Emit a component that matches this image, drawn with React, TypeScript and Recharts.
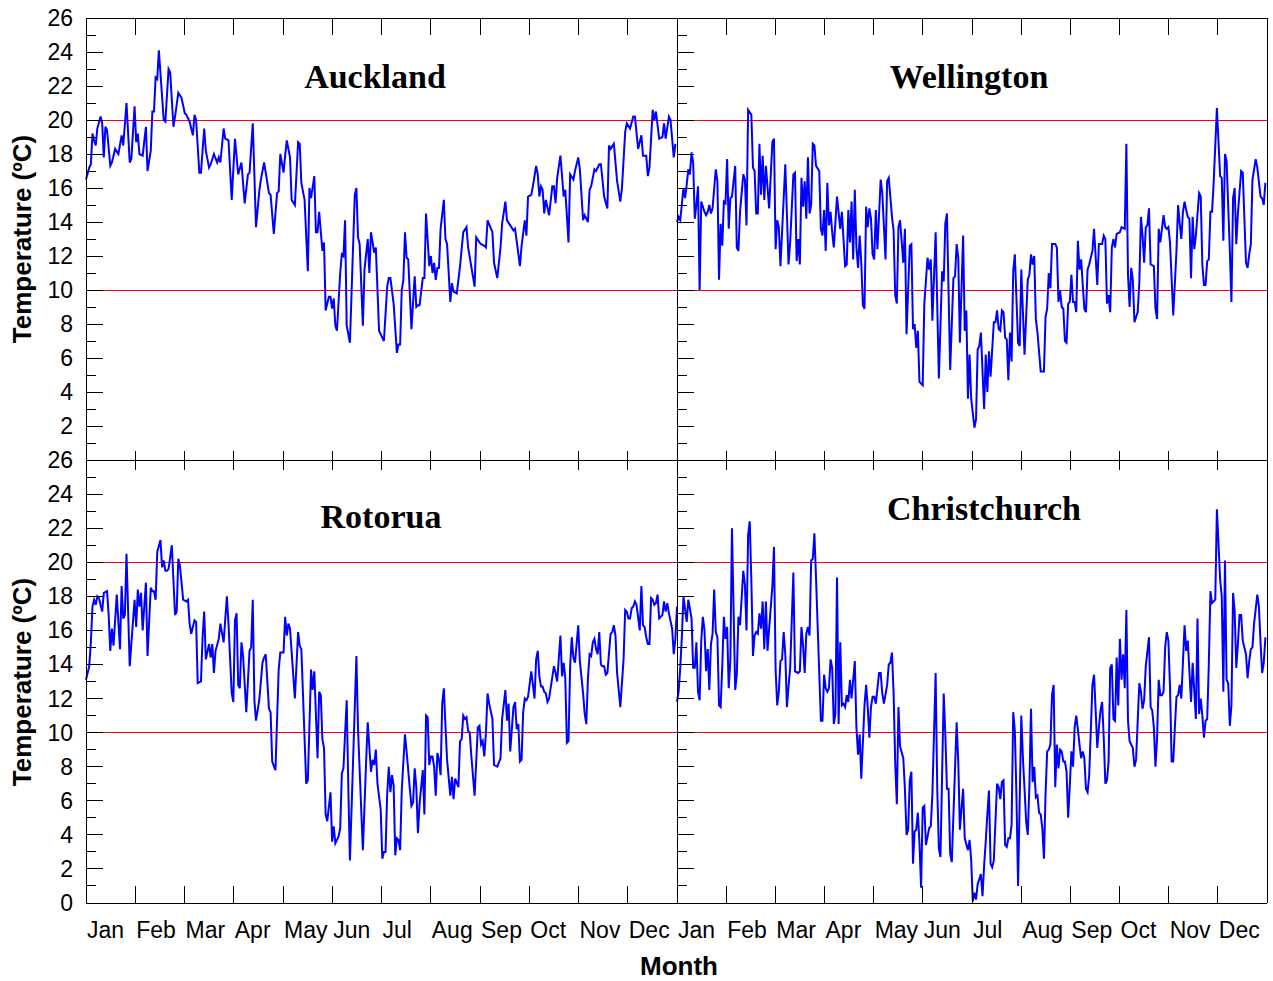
import React from "react";
import { Line, LineChart, ReferenceLine, XAxis, YAxis } from "recharts";

// day of year (0-364) and daily temperature in ºC
const auckland: [number, number][] = [
  [0,16.5],[2,17.2],[3,17.4],[4,19.2],[5,18.8],[6,18.5],[7,19.5],[9,20.2],[10,19.8],[11,17.8],[12,19.6],[13,19.4],[15,17.3],[16,17.5],[18,18.3],[20,18.0],[22,19.1],[23,18.5],[25,21.0],[27,17.5],[28,17.7],[30,20.8],[31,18.7],[32,19.2],[33,18.0],[35,17.9],[37,19.6],[38,17.0],[40,18.2],[41,20.5],[42,20.5],[43,22.5],[44,22.4],[45,24.1],[48,20.0],[49,19.9],[51,23.0],[52,22.8],[54,19.6],[55,20.2],[57,21.6],[59,21.3],[61,20.4],[62,20.3],[64,19.9],[66,19.1],[67,20.3],[68,20.0],[70,16.9],[71,16.9],[73,19.5],[74,18.2],[76,17.2],[77,17.4],[79,18.0],[81,17.5],[82,17.8],[83,17.5],[85,19.5],[86,18.9],[88,18.8],[90,15.3],[92,18.9],[94,16.8],[96,17.5],[98,15.1],[100,16.8],[101,16.9],[103,19.8],[105,13.7],[107,15.8],[108,16.5],[110,17.5],[111,16.9],[113,15.7],[114,15.6],[116,13.3],[118,15.7],[119,15.8],[120,18.0],[122,16.9],[123,17.9],[124,18.8],[126,17.8],[127,15.3],[129,15.0],[131,18.7],[132,18.6],[133,16.3],[135,15.3],[137,11.1],[138,16.0],[139,15.4],[141,16.7],[142,13.4],[143,13.4],[144,14.6],[146,12.3],[147,12.8],[148,8.8],[150,9.6],[151,9.6],[152,8.9],[153,9.5],[154,7.9],[155,7.6],[157,11.0],[158,12.1],[159,12.0],[160,14.1],[161,7.9],[163,6.9],[166,15.6],[167,16.0],[168,13.1],[169,12.7],[171,7.9],[172,11.2],[174,13.0],[175,11.0],[176,13.4],[178,12.2],[179,12.5],[181,7.6],[182,7.4],[184,7.0],[186,10.2],[187,10.7],[188,10.7],[190,9.2],[192,6.3],[193,6.8],[194,6.8],[195,10.0],[196,10.6],[197,13.4],[198,11.9],[199,11.8],[201,7.7],[203,10.8],[204,9.0],[205,9.1],[206,9.1],[208,10.7],[209,10.7],[210,14.5],[212,11.4],[213,12.0],[214,11.0],[215,11.6],[216,10.6],[217,11.3],[218,11.3],[219,13.6],[221,15.3],[222,13.0],[223,12.7],[225,9.3],[226,10.4],[227,9.9],[229,9.8],[231,11.4],[233,13.4],[235,13.7],[236,12.5],[240,10.2],[241,13.1],[243,12.8],[244,12.7],[246,12.6],[247,12.5],[248,14.1],[251,13.4],[252,11.6],[254,10.7],[256,12.5],[257,13.9],[259,15.2],[260,14.1],[262,13.8],[264,13.5],[265,13.6],[268,11.4],[269,12.6],[271,14.1],[272,13.2],[273,15.5],[275,15.6],[276,16.1],[278,17.3],[279,16.8],[280,15.5],[281,16.1],[282,15.9],[283,14.5],[284,15.3],[286,14.4],[288,16.1],[289,16.1],[290,15.1],[291,16.6],[293,17.9],[295,15.5],[296,15.9],[298,12.8],[299,16.8],[301,16.5],[302,17.0],[304,17.8],[305,17.1],[307,14.1],[308,14.4],[310,14.0],[311,15.9],[312,16.1],[314,17.1],[315,17.0],[317,17.4],[318,17.4],[320,15.5],[322,14.8],[323,18.5],[324,18.3],[326,18.6],[328,16.4],[330,15.2],[331,16.0],[333,19.3],[334,19.8],[336,19.5],[338,20.2],[339,20.2],[341,18.3],[343,19.1],[344,17.9],[346,17.9],[347,16.7],[348,17.2],[350,20.6],[351,20.0],[352,20.5],[354,18.9],[356,19.0],[357,19.8],[358,18.9],[360,20.2],[361,20.0],[363,17.8],[364,18.6],
];

const wellington: [number, number][] = [
  [0,14.0],[1,14.3],[2,14.1],[4,16.0],[5,15.4],[6,16.2],[7,17.1],[8,16.8],[9,18.1],[10,17.5],[11,14.2],[12,15.0],[13,16.1],[14,10.0],[15,15.2],[17,14.6],[18,14.4],[19,14.6],[20,15.0],[21,14.5],[22,14.8],[24,17.1],[25,16.4],[26,10.6],[27,13.9],[28,12.6],[29,15.2],[30,15.1],[31,17.7],[32,13.6],[33,15.4],[34,15.5],[36,17.3],[37,12.5],[38,12.3],[39,14.6],[41,16.8],[42,16.5],[43,13.8],[44,20.6],[46,20.3],[47,17.2],[48,17.0],[49,14.5],[50,14.5],[51,18.6],[52,15.6],[53,17.9],[54,15.3],[55,17.3],[57,14.8],[59,18.7],[60,18.9],[61,12.4],[62,14.1],[63,13.7],[64,11.4],[67,17.4],[69,11.5],[70,12.8],[72,16.8],[73,16.9],[74,11.7],[75,13.0],[76,11.5],[77,16.6],[78,14.9],[79,16.4],[80,14.2],[81,17.8],[82,14.5],[83,15.0],[84,18.6],[85,18.5],[86,17.3],[88,17.0],[89,13.6],[90,13.2],[91,14.7],[92,12.3],[93,16.3],[94,13.8],[95,14.6],[96,13.4],[97,12.5],[99,15.5],[101,13.6],[102,14.6],[104,11.4],[105,11.5],[106,14.7],[107,12.8],[108,15.2],[109,11.8],[110,15.9],[111,12.5],[112,11.3],[113,13.2],[114,11.6],[115,9.1],[116,8.9],[117,14.9],[118,13.7],[119,14.8],[120,14.2],[121,12.1],[122,11.8],[123,14.7],[124,12.4],[126,16.5],[127,15.7],[129,11.8],[130,16.4],[131,16.6],[133,14.3],[134,13.5],[135,9.7],[136,9.2],[137,13.7],[138,14.1],[140,11.6],[141,13.6],[142,7.4],[144,12.6],[145,12.7],[146,7.7],[147,8.0],[148,6.6],[149,7.6],[150,4.6],[151,4.5],[152,4.4],[153,9.2],[155,11.9],[156,11.2],[157,11.8],[158,8.2],[160,13.4],[162,4.8],[164,11.1],[165,10.5],[166,13.9],[167,14.5],[169,5.3],[171,10.7],[172,10.8],[173,12.7],[174,11.9],[175,6.9],[177,13.2],[178,7.6],[179,8.8],[180,3.6],[181,6.2],[182,3.6],[184,1.9],[185,2.4],[186,6.5],[187,6.7],[188,7.5],[190,3.0],[191,6.2],[192,4.0],[193,6.4],[194,4.9],[196,8.1],[197,8.1],[198,8.8],[199,7.7],[200,7.6],[201,8.8],[202,8.7],[203,7.2],[204,7.1],[205,4.7],[206,7.5],[207,5.8],[208,11.1],[209,12.1],[211,6.9],[212,6.7],[213,11.2],[214,8.7],[215,6.2],[217,10.6],[218,10.9],[219,12.1],[220,11.5],[221,12.0],[222,8.3],[223,7.5],[225,5.2],[227,5.2],[228,8.4],[229,8.9],[230,11.0],[231,10.1],[232,12.7],[234,12.7],[235,12.5],[236,9.3],[237,10.0],[238,9.0],[239,8.9],[240,7.0],[241,6.9],[242,9.2],[243,9.3],[244,10.9],[245,9.3],[246,9.3],[247,8.7],[248,12.9],[249,11.2],[250,11.8],[252,8.9],[253,8.7],[254,11.2],[255,11.5],[257,12.3],[258,13.6],[260,10.3],[261,12.7],[263,12.7],[264,13.2],[265,13.0],[266,9.2],[267,9.7],[268,8.7],[269,12.5],[270,13.0],[271,12.5],[272,13.3],[274,13.4],[275,13.7],[277,13.6],[278,18.6],[279,10.9],[280,9.0],[281,11.3],[282,10.6],[283,8.1],[285,8.7],[286,10.4],[287,14.3],[288,13.2],[289,11.6],[290,13.7],[291,13.8],[292,14.8],[293,11.5],[295,11.4],[296,8.9],[297,8.3],[298,13.6],[299,12.8],[300,13.6],[301,14.4],[302,13.7],[303,13.6],[304,13.7],[305,12.8],[307,8.5],[309,12.3],[310,15.0],[311,13.9],[312,13.0],[313,14.6],[314,15.2],[315,14.7],[316,14.3],[317,14.2],[318,10.7],[319,14.3],[320,12.4],[321,13.2],[323,15.7],[324,15.5],[325,11.5],[326,10.3],[327,10.3],[328,11.7],[329,11.8],[330,14.6],[331,14.6],[332,16.3],[334,20.7],[336,16.7],[337,16.6],[338,12.9],[339,18.0],[340,17.6],[342,12.3],[343,9.3],[344,15.4],[345,16.0],[346,12.7],[347,14.5],[349,17.0],[350,16.9],[352,11.6],[353,11.3],[354,12.1],[355,12.7],[356,16.5],[358,17.7],[359,17.2],[361,15.5],[362,15.4],[363,15.0],[364,16.3],
];

const rotorua: [number, number][] = [
  [0,13.1],[2,13.9],[3,15.3],[4,17.4],[5,17.8],[6,17.5],[7,18.0],[8,17.9],[10,17.1],[11,18.2],[13,18.3],[14,16.9],[15,14.8],[16,16.1],[17,15.1],[19,18.1],[21,14.9],[22,18.6],[23,16.7],[24,16.9],[25,20.5],[27,13.9],[29,16.5],[30,17.8],[31,16.2],[32,18.4],[33,17.4],[34,18.2],[35,16.0],[37,18.8],[38,14.5],[40,18.5],[41,18.3],[42,18.3],[43,17.8],[44,20.6],[46,21.3],[47,19.7],[48,20.1],[49,19.5],[50,19.5],[51,19.6],[53,21.0],[55,16.9],[56,17.1],[57,20.2],[58,19.8],[60,17.8],[62,17.7],[63,17.8],[64,16.4],[65,15.8],[67,16.6],[68,16.5],[69,12.9],[71,13.0],[72,15.6],[73,17.1],[74,14.3],[76,15.2],[77,14.4],[78,15.2],[79,13.5],[80,14.8],[82,15.5],[83,16.4],[85,15.3],[87,18.0],[88,16.4],[90,12.3],[91,11.8],[92,16.6],[93,17.0],[94,12.8],[95,12.6],[96,15.3],[97,14.5],[99,11.2],[101,14.8],[102,15.0],[103,17.8],[104,11.9],[105,10.7],[107,11.9],[109,14.1],[110,14.4],[111,14.6],[113,11.4],[114,11.2],[115,8.3],[117,7.8],[119,13.7],[120,14.7],[122,14.7],[123,16.8],[124,15.7],[125,16.4],[126,16.1],[129,12.0],[131,15.9],[132,15.1],[133,14.9],[136,7.0],[137,7.2],[139,13.7],[140,12.5],[141,13.6],[143,8.5],[144,12.4],[145,12.2],[146,9.6],[147,9.1],[148,5.2],[149,4.8],[151,6.5],[152,3.6],[153,4.5],[154,3.5],[156,3.9],[157,4.4],[158,7.6],[159,7.9],[161,11.9],[162,6.8],[163,2.5],[167,14.5],[168,10.2],[171,3.1],[173,8.3],[174,10.6],[176,7.7],[177,8.4],[178,8.1],[179,9.0],[180,7.0],[182,5.5],[183,2.6],[184,3.0],[185,3.0],[186,6.4],[187,8.0],[188,6.5],[189,7.5],[190,6.9],[191,2.8],[192,3.8],[193,3.7],[194,3.1],[195,6.6],[197,9.9],[198,8.9],[200,6.7],[201,5.7],[202,5.9],[203,7.9],[204,6.8],[205,4.1],[206,5.8],[208,7.8],[209,5.2],[210,11.0],[211,10.9],[212,8.1],[213,8.6],[214,8.6],[215,8.0],[216,6.3],[217,8.8],[218,8.4],[219,7.5],[220,11.7],[221,12.6],[222,10.4],[223,8.4],[225,6.3],[226,7.4],[227,6.1],[228,7.3],[230,6.8],[231,9.5],[232,9.6],[233,11.0],[234,10.8],[235,10.9],[236,10.1],[237,10.0],[238,8.6],[240,6.3],[242,10.3],[243,10.4],[244,9.3],[245,9.5],[246,8.6],[247,10.0],[248,12.3],[249,11.7],[251,10.8],[252,8.1],[254,8.0],[256,8.5],[257,10.8],[259,12.5],[260,10.7],[261,11.7],[262,8.9],[264,11.5],[265,11.8],[266,10.2],[267,10.5],[268,8.3],[269,8.4],[270,11.2],[271,12.0],[272,11.9],[273,12.1],[275,13.6],[276,12.8],[277,12.0],[278,14.3],[279,14.8],[280,13.3],[281,12.7],[282,12.7],[283,12.4],[284,12.3],[285,11.8],[286,12.0],[289,13.9],[290,13.5],[291,13.0],[293,15.7],[294,13.3],[295,14.1],[296,13.2],[297,9.4],[298,9.5],[299,13.9],[300,15.6],[301,14.4],[302,14.1],[304,16.3],[305,14.2],[307,12.3],[308,11.1],[309,10.5],[310,13.2],[311,14.6],[312,14.5],[313,15.3],[314,15.5],[315,14.9],[316,14.6],[317,15.9],[318,14.0],[319,13.9],[320,13.9],[321,13.4],[322,13.5],[324,15.8],[325,15.9],[326,16.3],[327,15.7],[328,13.5],[330,11.5],[332,14.3],[333,17.2],[334,17.1],[335,16.7],[336,16.7],[337,17.3],[338,17.4],[339,17.7],[340,17.5],[342,16.0],[343,18.6],[344,16.3],[345,16.2],[346,15.6],[347,15.2],[348,15.2],[349,17.9],[350,17.8],[351,17.5],[352,17.6],[353,18.1],[354,16.7],[356,16.9],[357,17.7],[358,17.1],[359,17.6],[360,17.0],[362,16.1],[363,14.6],[364,15.5],[365,17.4],
];

const christchurch: [number, number][] = [
  [0,11.8],[1,12.4],[2,13.8],[3,15.6],[4,18.0],[6,16.5],[7,17.8],[9,16.7],[10,13.8],[11,13.8],[12,15.3],[13,12.4],[14,11.9],[15,15.4],[16,16.8],[17,16.0],[18,13.6],[19,14.9],[20,12.5],[21,15.2],[22,15.8],[23,18.4],[24,15.9],[25,15.6],[26,11.6],[27,11.5],[28,13.9],[29,16.8],[30,15.5],[31,16.2],[32,12.6],[33,14.2],[34,22.0],[36,12.5],[37,13.4],[38,16.8],[39,16.3],[41,19.5],[42,18.7],[43,16.0],[44,21.6],[45,22.4],[46,18.9],[47,14.5],[48,15.7],[49,15.9],[50,15.8],[51,17.0],[52,16.1],[53,17.7],[54,14.9],[55,17.7],[56,14.8],[57,16.1],[59,18.6],[60,20.9],[61,13.7],[62,11.6],[63,12.4],[64,14.2],[65,14.3],[66,15.9],[67,14.6],[68,11.5],[69,12.7],[70,13.8],[72,19.4],[73,13.6],[75,13.5],[76,13.6],[77,16.2],[78,15.1],[79,13.5],[80,15.8],[81,16.2],[82,15.7],[83,20.1],[84,20.2],[85,21.7],[86,19.1],[87,16.3],[89,10.7],[90,10.7],[91,13.4],[92,12.6],[93,12.4],[94,12.6],[95,14.3],[96,13.8],[97,10.5],[98,11.1],[99,19.1],[100,10.5],[101,15.3],[102,11.6],[103,11.7],[104,11.5],[105,12.2],[106,11.8],[107,13.1],[108,12.0],[110,14.2],[111,10.3],[112,8.7],[113,9.9],[114,7.3],[116,11.6],[117,12.8],[118,11.5],[119,9.7],[120,11.5],[121,12.1],[122,12.1],[123,11.7],[125,13.5],[126,13.5],[127,12.3],[128,11.7],[130,12.8],[131,14.0],[132,14.1],[133,14.7],[134,12.3],[135,8.2],[136,5.8],[137,11.5],[138,9.2],[140,8.5],[141,6.7],[142,4.0],[143,4.3],[144,7.2],[145,7.7],[146,2.3],[147,4.2],[148,4.3],[149,5.3],[150,3.5],[151,0.9],[152,5.6],[153,5.7],[154,3.4],[156,4.4],[157,4.5],[158,6.4],[160,13.5],[161,6.7],[162,3.2],[163,2.7],[165,12.3],[166,9.9],[167,6.7],[168,6.7],[169,2.9],[170,2.4],[173,10.6],[174,8.3],[175,4.3],[177,6.7],[178,3.8],[180,3.1],[181,3.7],[182,2.5],[183,0.1],[184,0.6],[185,0.2],[186,1.1],[188,1.7],[189,0.4],[190,2.2],[191,3.6],[192,5.2],[193,6.6],[194,2.3],[195,2.1],[196,2.5],[198,7.0],[199,6.8],[200,6.1],[201,7.1],[202,7.2],[203,3.4],[204,3.3],[205,3.8],[206,3.8],[207,4.6],[208,11.2],[209,10.1],[210,6.3],[211,1.0],[213,11.0],[214,8.5],[215,6.7],[216,4.8],[217,4.0],[218,6.9],[219,11.4],[220,7.1],[221,8.0],[222,6.2],[223,6.3],[224,5.3],[225,5.2],[226,4.4],[227,2.6],[228,6.4],[229,8.9],[230,9.0],[231,9.3],[232,12.2],[233,12.8],[234,6.8],[235,9.3],[236,7.9],[237,9.0],[238,8.9],[239,8.3],[240,8.3],[241,7.7],[242,5.0],[243,6.9],[244,8.9],[245,8.0],[246,10.3],[247,11.0],[248,10.2],[249,9.3],[250,8.5],[251,8.9],[252,8.5],[253,6.7],[254,6.5],[255,7.5],[257,12.8],[258,13.4],[259,11.3],[260,9.1],[261,10.3],[262,11.3],[263,11.8],[264,9.7],[265,7.0],[266,7.2],[267,8.3],[268,13.8],[269,14.0],[270,10.8],[271,10.7],[272,14.4],[273,11.6],[274,15.5],[275,13.1],[276,14.6],[277,12.6],[278,17.2],[279,10.7],[280,9.5],[282,9.1],[283,8.0],[284,8.4],[286,12.9],[287,12.4],[288,11.4],[289,11.9],[290,13.9],[292,15.6],[293,11.5],[294,11.3],[295,10.3],[296,8.0],[297,9.7],[298,13.1],[299,12.2],[300,12.2],[301,12.4],[302,15.0],[303,15.9],[304,15.4],[305,12.7],[306,8.3],[307,8.3],[308,10.3],[309,12.1],[310,12.2],[311,12.8],[312,12.0],[314,16.3],[315,14.8],[316,15.4],[318,11.8],[319,14.1],[321,10.8],[322,16.7],[323,11.1],[324,12.0],[325,11.0],[326,9.7],[327,10.7],[328,10.8],[329,14.0],[330,18.3],[331,17.6],[332,17.7],[333,17.8],[334,23.1],[336,19.0],[337,18.0],[338,12.4],[339,20.1],[340,13.1],[341,12.9],[342,10.4],[343,11.6],[344,18.2],[345,17.1],[346,13.8],[347,15.2],[348,16.9],[349,16.9],[350,15.4],[352,14.6],[353,13.2],[354,14.2],[355,14.9],[356,15.0],[357,16.4],[359,18.1],[360,17.4],[361,15.3],[362,13.5],[363,14.1],[364,15.6],
];

const months = ["Jan", "Feb", "Mar", "Apr", "May", "Jun", "Jul", "Aug", "Sep", "Oct", "Nov", "Dec"];
const monthTicks = months.map((_, i) => (i * 365) / 12);
const tempTicks = Array.from({ length: 27 }, (_, i) => i);
const guideTemps = [10, 20];

const SANS = "'Liberation Sans', Arial, Helvetica, sans-serif";
const SERIF = "'Liberation Serif', 'Times New Roman', serif";

const Y_AXIS_W = 86;
const TOP_AXIS_H = 18;

type PanelProps = {
  data: [number, number][];
  left: number;
  top: number;
  width: number;
  height: number;
  yLabels: "all" | "noZero" | "none";
  xLabels: boolean;
  topTick: number;
  bottomTick: number;
};

function Panel({ data, left, top, width, height, yLabels, xLabels, topTick, bottomTick }: PanelProps) {
  const rows = data.map(([day, temp]) => ({ day, temp }));

  const leftTick = (p: any) => {
    const v = p.payload.value;
    const len = v % 2 === 0 ? 17 : 10;
    const show = v % 2 === 0 && (yLabels === "all" || (yLabels === "noZero" && v !== 0));
    return (
      <g>
        <line x1={p.x} y1={p.y} x2={p.x + len} y2={p.y} stroke="#000" strokeWidth={1} shapeRendering="crispEdges" />
        {show && (
          <text x={p.x - 13} y={p.y + 8} textAnchor="end" fontFamily={SANS} fontSize={23} fill="#000">
            {v}
          </text>
        )}
      </g>
    );
  };

  const bottomTickFn = (p: any) => (
    <g>
      <line x1={p.x} y1={p.y} x2={p.x} y2={p.y - bottomTick} stroke="#000" strokeWidth={1} shapeRendering="crispEdges" />
      {xLabels && (
        <text x={p.x + 1} y={p.y + 35} textAnchor="start" fontFamily={SANS} fontSize={23} fill="#000">
          {months[p.index]}
        </text>
      )}
    </g>
  );

  const topTickFn = (p: any) => (
    <line x1={p.x} y1={p.y} x2={p.x} y2={p.y + topTick} stroke="#000" strokeWidth={1} shapeRendering="crispEdges" />
  );

  const axisLine = { stroke: "#000", shapeRendering: "crispEdges" };

  return (
    <div style={{ position: "absolute", left: left - Y_AXIS_W, top: top - TOP_AXIS_H }}>
      <LineChart
        width={Y_AXIS_W + width + 6}
        height={TOP_AXIS_H + height + 60}
        data={rows}
        margin={{ top: 0, right: 6, bottom: 0, left: 0 }}
      >
        <XAxis
          xAxisId="b"
          dataKey="day"
          type="number"
          domain={[0, 365]}
          ticks={monthTicks}
          interval={0}
          orientation="bottom"
          height={60}
          tickSize={0}
          tickMargin={0}
          tickLine={false}
          axisLine={axisLine}
          tick={bottomTickFn}
        />
        <XAxis
          xAxisId="t"
          dataKey="day"
          type="number"
          domain={[0, 365]}
          ticks={monthTicks}
          interval={0}
          orientation="top"
          height={TOP_AXIS_H}
          tickSize={0}
          tickMargin={0}
          tickLine={false}
          axisLine={axisLine}
          tick={topTickFn}
        />
        <YAxis
          yAxisId="l"
          type="number"
          domain={[0, 26]}
          ticks={tempTicks}
          interval={0}
          width={Y_AXIS_W}
          tickSize={0}
          tickMargin={0}
          tickLine={false}
          axisLine={axisLine}
          tick={leftTick}
        />
        {guideTemps.map((t) => (
          <ReferenceLine
            key={t}
            xAxisId="b"
            yAxisId="l"
            y={t}
            stroke="#ff0000"
            strokeWidth={1}
            shapeRendering="crispEdges"
          />
        ))}
        <ReferenceLine xAxisId="b" yAxisId="l" x={365} stroke="#000" strokeWidth={1} shapeRendering="crispEdges" />
        <Line
          xAxisId="b"
          yAxisId="l"
          type="linear"
          dataKey="temp"
          stroke="#0000ff"
          strokeWidth={2}
          dot={false}
          isAnimationActive={false}
        />
        <Line
          xAxisId="t"
          yAxisId="l"
          type="linear"
          dataKey="temp"
          stroke="none"
          dot={false}
          legendType="none"
          isAnimationActive={false}
        />
      </LineChart>
    </div>
  );
}

const titleStyle = { fontFamily: SERIF, fontSize: 34, fontWeight: "bold" as const };
const axisTitleStyle = { fontFamily: SANS, fontSize: 26, fontWeight: "bold" as const };

export default function App() {
  return (
    <div style={{ position: "absolute", left: 0, top: 0, width: 1273, height: 981, background: "#fff" }}>
      <Panel data={auckland} left={86} top={18} width={591} height={442} yLabels="noZero" xLabels={false} topTick={17} bottomTick={9} />
      <Panel data={wellington} left={677} top={18} width={590} height={442} yLabels="none" xLabels={false} topTick={17} bottomTick={9} />
      <Panel data={rotorua} left={86} top={460} width={591} height={443} yLabels="all" xLabels={true} topTick={10} bottomTick={17} />
      <Panel data={christchurch} left={677} top={460} width={590} height={443} yLabels="none" xLabels={true} topTick={10} bottomTick={17} />
      <svg width={1273} height={981} style={{ position: "absolute", left: 0, top: 0, pointerEvents: "none" }}>
        <text x={375} y={88} textAnchor="middle" {...titleStyle}>Auckland</text>
        <text x={969} y={88} textAnchor="middle" {...titleStyle}>Wellington</text>
        <text x={381} y={528} textAnchor="middle" {...titleStyle}>Rotorua</text>
        <text x={984} y={520} textAnchor="middle" {...titleStyle}>Christchurch</text>
        <text transform="translate(31,239) rotate(-90)" textAnchor="middle" {...axisTitleStyle}>Temperature (ºC)</text>
        <text transform="translate(31,682) rotate(-90)" textAnchor="middle" {...axisTitleStyle}>Temperature (ºC)</text>
        <text x={679} y={975} textAnchor="middle" {...axisTitleStyle}>Month</text>
      </svg>
    </div>
  );
}
